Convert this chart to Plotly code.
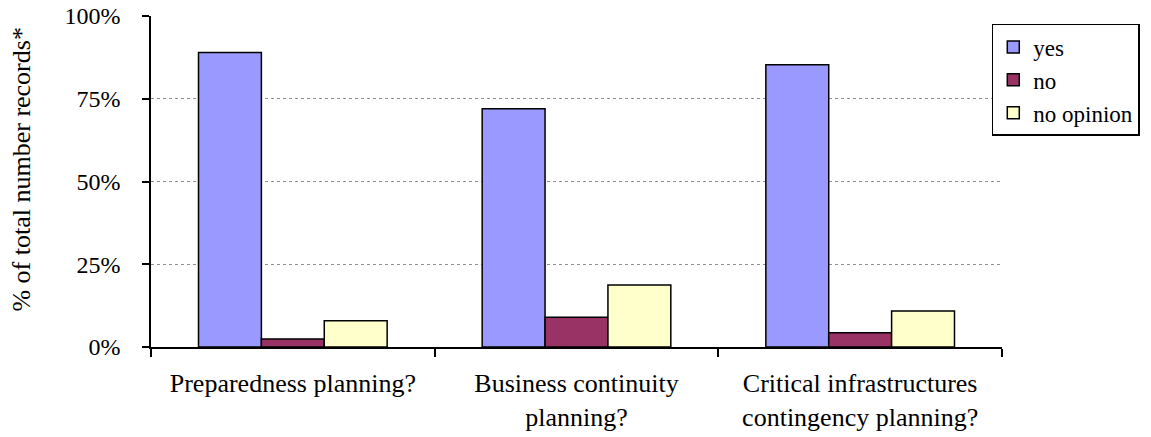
import plotly.graph_objects as go

categories = ["Preparedness planning?", "Business continuity<br>planning?",
              "Critical infrastructures<br>contingency planning?"]
yes_vals = [0.89, 0.72, 0.853]
no_vals = [0.024, 0.09, 0.043]
noop_vals = [0.079, 0.187, 0.109]
series_names = ["yes", "no", "no opinion"]
series_colors = ["#9999FF", "#993366", "#FFFFCC"]
y_ticks = [0, 0.25, 0.5, 0.75, 1.0]
y_ticklabels = ["0%", "25%", "50%", "75%", "100%"]
y_title = "% of total number records*"

FONT = "Liberation Serif"

fig = go.Figure()
for name, vals, col in zip(series_names, [yes_vals, no_vals, noop_vals], series_colors):
    fig.add_trace(go.Bar(
        x=categories, y=vals, name=name,
        marker=dict(color=col, line=dict(color="black", width=1.5)),
    ))

fig.update_layout(
    width=1151, height=437,
    margin=dict(l=151, r=149, t=16, b=90, autoexpand=False),
    paper_bgcolor="white", plot_bgcolor="white",
    barmode="group", bargap=0.335, bargroupgap=0,
    font=dict(family=FONT, size=25, color="black"),
    showlegend=True,
    legend=dict(
        x=0.988, y=0.976, xanchor="left", yanchor="top",
        bgcolor="white", bordercolor="black", borderwidth=1.5,
        font=dict(family=FONT, size=23, color="black"),
        tracegroupgap=0,
    ),
)

# y-axis title placed as a rotated annotation (left of the tick labels)
fig.add_annotation(
    text=y_title, textangle=-90, showarrow=False,
    xref="paper", yref="paper", x=-0.152, y=0.535,
    xanchor="center", yanchor="middle",
    font=dict(family=FONT, size=26, color="black"),
)

fig.update_xaxes(
    showline=True, linecolor="black", linewidth=1.5,
    ticks="outside", tickson="boundaries", ticklen=8, tickcolor="black", tickwidth=1.5,
    ticklabelstandoff=12,
    tickfont=dict(family=FONT, size=26, color="black"),
    showgrid=False, automargin=False, ticklabeloverflow="allow",
)
fig.update_yaxes(
    range=[0, 1], tickvals=y_ticks, ticktext=y_ticklabels,
    showline=True, linecolor="black", linewidth=1.5,
    ticks="outside", ticklen=7, tickcolor="black", tickwidth=1.5,
    ticklabelstandoff=17, ticklabeloverflow="allow",
    tickfont=dict(family=FONT, size=24, color="black"),
    showgrid=True, gridcolor="#909090", griddash="dot", gridwidth=1,
    zeroline=False, automargin=False,
)

# remove the default 8px page margin so the figure fills the window exactly
fig.write_html("out.html", config={"displayModeBar": False},
               post_script="document.body.style.margin='0';")
